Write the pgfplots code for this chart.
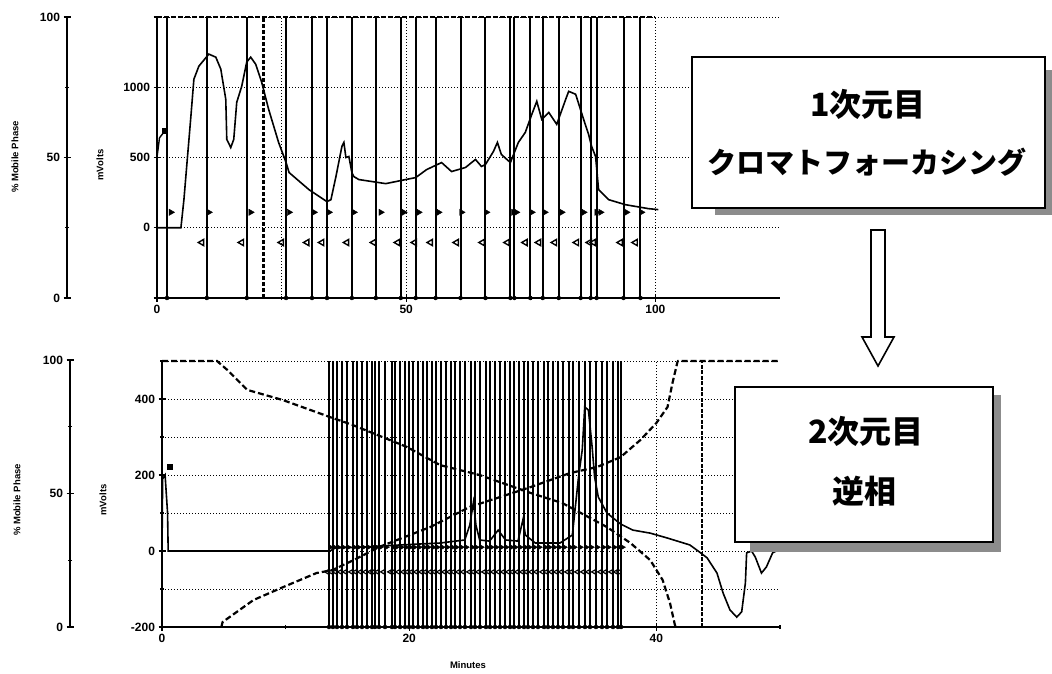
\documentclass[border=0pt]{standalone}
\usepackage{pgfplots}
\pgfplotsset{compat=1.18}
\usepackage{pgfplotstable}
\usepackage{fontspec}
\setmainfont{Liberation Sans}
\newfontfamily\cjk{Noto Sans CJK JP}

% fraction collector marks, top run (minutes)
\pgfplotstableread{
x lo len
2.0 -500 2000
10.0 -500 2000
18.0 -500 2000
25.9 -500 2000
31.1 -500 2000
34.1 -500 2000
39.1 -500 2000
43.9 -500 2000
48.9 -500 2000
51.9 -500 2000
55.9 -500 2000
60.9 -500 2000
65.9 -500 2000
70.9 -500 2000
71.7 -500 2000
74.9 -500 2000
77.4 -500 2000
80.6 -500 2000
85.0 -500 2000
87.0 -500 2000
88.2 -500 2000
93.6 -500 2000
97.0 -500 2000
}\fracT

% fraction collector marks, bottom run (minutes)
\pgfplotstableread{
x lo len r l
13.51 -200 700 10 -55
13.83 -200 700 10 -55
14.16 -200 700 10 -55
14.56 -200 700 10 -55
14.97 -200 700 10 -55
15.45 -200 700 10 -55
15.78 -200 700 10 -55
16.18 -200 700 10 -55
16.59 -200 700 10 -55
16.99 -200 700 10 -55
17.23 -200 700 10 -55
17.56 -200 700 10 -55
18.04 -200 700 10 -55
18.61 -200 700 10 -55
18.85 -200 700 10 -55
19.26 -200 700 10 -55
19.66 -200 700 10 -55
19.98 -200 700 10 -55
20.31 -200 700 10 -55
20.71 -200 700 10 -55
21.12 -200 700 10 -55
21.44 -200 700 10 -55
21.84 -200 700 10 -55
22.17 -200 700 10 -55
22.57 -200 700 10 -55
22.98 -200 700 10 -55
23.38 -200 700 10 -55
23.71 -200 700 10 -55
24.11 -200 700 10 -55
24.51 -200 700 10 -55
25.00 -200 700 10 -55
25.32 -200 700 10 -55
25.73 -200 700 10 -55
26.21 -200 700 10 -55
26.54 -200 700 10 -55
26.94 -200 700 10 -55
27.35 -200 700 10 -55
27.75 -200 700 10 -55
28.16 -200 700 10 -55
28.48 -200 700 10 -55
28.88 -200 700 10 -55
29.29 -200 700 10 -55
29.61 -200 700 10 -55
30.02 -200 700 10 -55
30.42 -200 700 10 -55
30.91 -200 700 10 -55
31.23 -200 700 10 -55
31.63 -200 700 10 -55
32.04 -200 700 10 -55
32.44 -200 700 10 -55
32.93 -200 700 10 -55
33.25 -200 700 10 -55
33.74 -200 700 10 -55
34.22 -200 700 10 -55
34.63 -200 700 10 -55
35.11 -200 700 10 -55
35.60 -200 700 10 -55
36.00 -200 700 10 -55
36.49 -200 700 10 -55
36.89 -200 700 10 -55
37.14 -200 700 10 -55
}\fracB

\pgfplotsset{
  myaxis/.style={
    scale only axis, anchor=south west, clip=false,
    tick align=outside,
    tick style={line width=1.4pt, black},
    major tick length=7pt, minor tick length=4pt,
    ticklabel style={font=\fontsize{12}{13}\selectfont\bfseries},
    /pgf/number format/assume math mode=true,
    /pgf/number format/1000 sep={},
    grid style={line width=0.7pt, black, dash pattern=on 1pt off 2pt},
    minor grid style={line width=0.7pt, black, dash pattern=on 1pt off 2pt},
  },
  noarrows/.style={
    axis line style={-, line width=2.4pt, black},
    every outer x axis line/.append style={-},
    every outer y axis line/.append style={-},
    every inner x axis line/.append style={-},
    every inner y axis line/.append style={-},
  },
  pctaxis/.style={
    myaxis, width=10pt, xmin=0, xmax=1, ymin=0, ymax=100,
    axis x line=none, axis y line=left, noarrows,
    ytick={0,50,100}, minor ytick={25,75},
  },
}

\begin{document}
\begin{tikzpicture}
\path[use as bounding box] (0,0) rectangle (1052pt,673pt);

% ---------- top: % mobile phase axis ----------
\begin{axis}[pctaxis, at={(67pt,375pt)}, height=281pt]
\end{axis}

% ---------- top: chromatofocusing run ----------
\begin{axis}[myaxis, at={(157pt,375pt)}, width=623pt, height=281pt,
  xmin=0, xmax=125, ymin=-500, ymax=1500,
  axis x line=bottom, axis y line=left, noarrows,
  xtick={0,50,100}, minor xtick={25,75},
  ytick={-500,0,500,1000,1500}, yticklabels={,0,500,1000,},
  xmajorgrids=true, xminorgrids=true, ymajorgrids=true]
  % fraction lines
  \addplot[only marks, mark=none, error bars/.cd, y dir=plus, y explicit,
    error mark=none, error bar style={line width=2pt, black}]
    table[x=x, y=lo, y error=len] {\fracT};
  % event marker (dashed)
  \addplot[line width=2.4pt, black, dash pattern=on 4pt off 2pt] coordinates {(21.4,-500) (21.4,1500)};
  % % mobile phase (100 %)
  \addplot[line width=2.2pt, black, dash pattern=on 5pt off 2pt] coordinates {(0,1500) (100,1500)};
  % fraction triangles
  \addplot[only marks, mark=triangle*, mark size=3.6pt, mark options={rotate=-90, fill=black}]
    coordinates {(2.8,110) (10.4,110) (18.8,110) (26.5,110) (31.5,110) (34.5,110) (39.5,110)
    (44.9,110) (49.5,110) (52.5,110) (56.5,110) (61.1,110) (66.1,110) (71.5,110) (72.1,110)
    (75.2,110) (77.8,110) (81.2,110) (85.6,110) (88.2,110) (89.0,110) (94.2,110) (97.2,110)};
  \addplot[only marks, mark=triangle, mark size=3.6pt, mark options={rotate=90, line width=1.4pt, fill=white}]
    coordinates {(9.0,-105) (17.0,-105) (25.0,-105) (30.1,-105) (33.1,-105) (38.1,-105)
    (43.5,-105) (48.3,-105) (51.7,-105) (54.9,-105) (60.1,-105) (65.3,-105) (70.3,-105)
    (73.9,-105) (76.6,-105) (79.8,-105) (84.2,-105) (86.8,-105) (87.6,-105) (93.0,-105) (96.0,-105)};
  % start marker
  \addplot[line width=1.4pt, black, mark=square*, mark size=2.2pt, mark indices={3}]
    coordinates {(0,500) (0.5,640) (1.6,690)};
  % detector trace
  \addplot[line width=1.6pt, black] coordinates {
    (0,0) (4.8,0) (5.4,200) (6.8,793) (7.4,1057) (8.4,1150) (10.4,1236) (11.8,1214)
    (12.8,1129) (13.8,914) (14.0,629) (14.8,571) (15.4,629) (16.0,893) (17.0,1007)
    (18.0,1179) (18.8,1214) (19.8,1164) (21.0,1036) (22.4,843) (24.4,607) (25.9,464)
    (26.5,393) (30.5,271) (34.1,186) (34.9,200) (35.9,364) (37.1,579) (37.5,607)
    (37.9,500) (38.5,507) (39.1,393) (39.5,364) (40.5,343) (43.1,329) (45.9,314)
    (49.9,343) (51.9,357) (54.1,414) (57.1,464) (59.1,400) (61.9,429) (63.9,486)
    (65.1,436) (65.9,450) (67.5,543) (68.3,607) (69.1,521) (70.9,464) (72.5,607)
    (73.9,679) (75.2,807) (76.2,900) (77.2,771) (78.6,821) (80.2,736) (82.0,914)
    (82.6,971) (84.0,950) (85.6,771) (86.6,664) (87.2,579) (88.0,507) (88.6,271)
    (90.6,200) (94.0,164) (98.6,136) (100.6,129)};
\end{axis}

% ---------- bottom: % mobile phase axis ----------
\begin{axis}[pctaxis, at={(70pt,46pt)}, height=267pt]
\end{axis}

% ---------- bottom: reversed-phase run ----------
\begin{axis}[myaxis, at={(162pt,46pt)}, width=618pt, height=266pt,
  xmin=0, xmax=50, ymin=-200, ymax=500,
  axis x line=bottom, axis y line=left, noarrows,
  xtick={0,20,40}, minor xtick={10,30,50},
  ytick={-200,0,200,400}, minor ytick={-100,100,300,500},
  xmajorgrids=true, ymajorgrids=true, yminorgrids=true]
  % fraction lines
  \addplot[only marks, mark=none, error bars/.cd, y dir=plus, y explicit,
    error mark=none, error bar style={line width=1.7pt, black}]
    table[x=x, y=lo, y error=len] {\fracB};
  % fraction triangles
  \addplot[only marks, mark=triangle*, mark size=2.6pt, mark options={xshift=1.8pt, rotate=-90, fill=black}]
    table[x=x, y=r] {\fracB};
  \addplot[only marks, mark=triangle, mark size=2.6pt, mark options={xshift=-1.8pt, rotate=90, line width=1.1pt, fill=white}]
    table[x=x, y=l] {\fracB};
  % event marker (dashed)
  \addplot[line width=2.6pt, black, dash pattern=on 4pt off 1.5pt] coordinates {(43.7,-200) (43.7,500)};
  % gradient (% mobile phase), two dashed curves
  \addplot[line width=2.2pt, black, dash pattern=on 6pt off 3pt] coordinates {
    (0,500) (4.45,500) (5.3,476) (6.9,424) (9.8,397) (13.8,350) (15.4,332) (19.8,274)
    (22.5,226) (25.7,200) (29.8,153) (32.4,126) (36.0,63) (37.9,21) (39.5,-24)
    (40.5,-76) (41.1,-137) (41.5,-195) (41.6,-200)};
  \addplot[line width=2.2pt, black, dash pattern=on 6pt off 3pt] coordinates {
    (4.8,-200) (4.9,-187) (7.4,-129) (9.8,-95) (12.5,-58) (13.8,-50) (15.5,-24)
    (17.6,11) (21.7,63) (24.9,116) (29.8,168) (33.0,205) (35.2,221) (37.1,247)
    (38.7,292) (40.0,337) (40.9,379) (41.3,442) (41.7,497) (41.75,500) (50,500)};
  % start marker
  \addplot[only marks, mark=square*, mark size=2.4pt] coordinates {(0.6,222)};
  % detector trace
  \addplot[line width=1.6pt, black] coordinates {
    (0,0) (0.05,190) (0.25,200) (0.35,150) (0.45,100) (0.5,0) (13.6,0) (14.0,8)
    (16.0,10) (19.3,16) (22.5,21) (24.5,29) (24.9,68) (25.2,129) (25.4,68) (25.7,29)
    (26.5,26) (27.2,55) (27.8,29) (28.8,26) (29.2,82) (29.4,42) (30.2,21) (32.2,21)
    (33.2,42) (33.7,195) (34.0,266) (34.2,379) (34.5,371) (34.8,274) (35.0,195)
    (35.3,142) (36.0,100) (37.1,71) (38.1,55) (39.5,47) (40.9,34) (41.9,24) (42.7,16)
    (43.5,-3) (44.1,-18) (44.9,-58) (45.4,-111) (45.95,-155) (46.5,-174) (46.9,-160)
    (47.2,-84) (47.3,-5) (47.7,0) (48.0,-16) (48.5,-58) (48.9,-42) (49.4,-5) (49.7,0)};
\end{axis}

% ---------- axis titles ----------
\begin{scope}[every node/.style={font=\fontsize{9.5}{10}\selectfont\bfseries}]
  \node[rotate=90] at (15pt,516pt) {\% Mobile Phase};
  \node[rotate=90] at (100pt,508pt) {mVolts};
  \node[rotate=90] at (17pt,173pt) {\% Mobile Phase};
  \node[rotate=90] at (103pt,173pt) {mVolts};
  \node at (468pt,8pt) {Minutes};
\end{scope}

% ---------- annotation boxes ----------
\fill[black!45] (715pt,458pt) rectangle (1052pt,603pt);
\draw[line width=1.8pt, fill=white] (692pt,465pt) rectangle (1045pt,616pt);
\node[font={\cjk\bfseries\fontsize{32}{36}\selectfont}] at (868pt,569pt) {1次元目};
\node[font={\cjk\bfseries\fontsize{29}{33}\selectfont}] at (867pt,511pt) {クロマトフォーカシング};

\draw[line width=1.6pt, fill=white] (871pt,443pt) -- (885pt,443pt) -- (885pt,336pt)
  -- (894pt,336pt) -- (878pt,307pt) -- (862pt,336pt) -- (871pt,336pt) -- cycle;

\fill[black!45] (750pt,121pt) rectangle (1001pt,278pt);
\draw[line width=1.8pt, fill=white] (735pt,131pt) rectangle (993pt,286pt);
\node[font={\cjk\bfseries\fontsize{32}{36}\selectfont}] at (866pt,242pt) {2次元目};
\node[font={\cjk\bfseries\fontsize{32}{36}\selectfont}] at (864pt,182pt) {逆相};
\end{tikzpicture}
\end{document}
